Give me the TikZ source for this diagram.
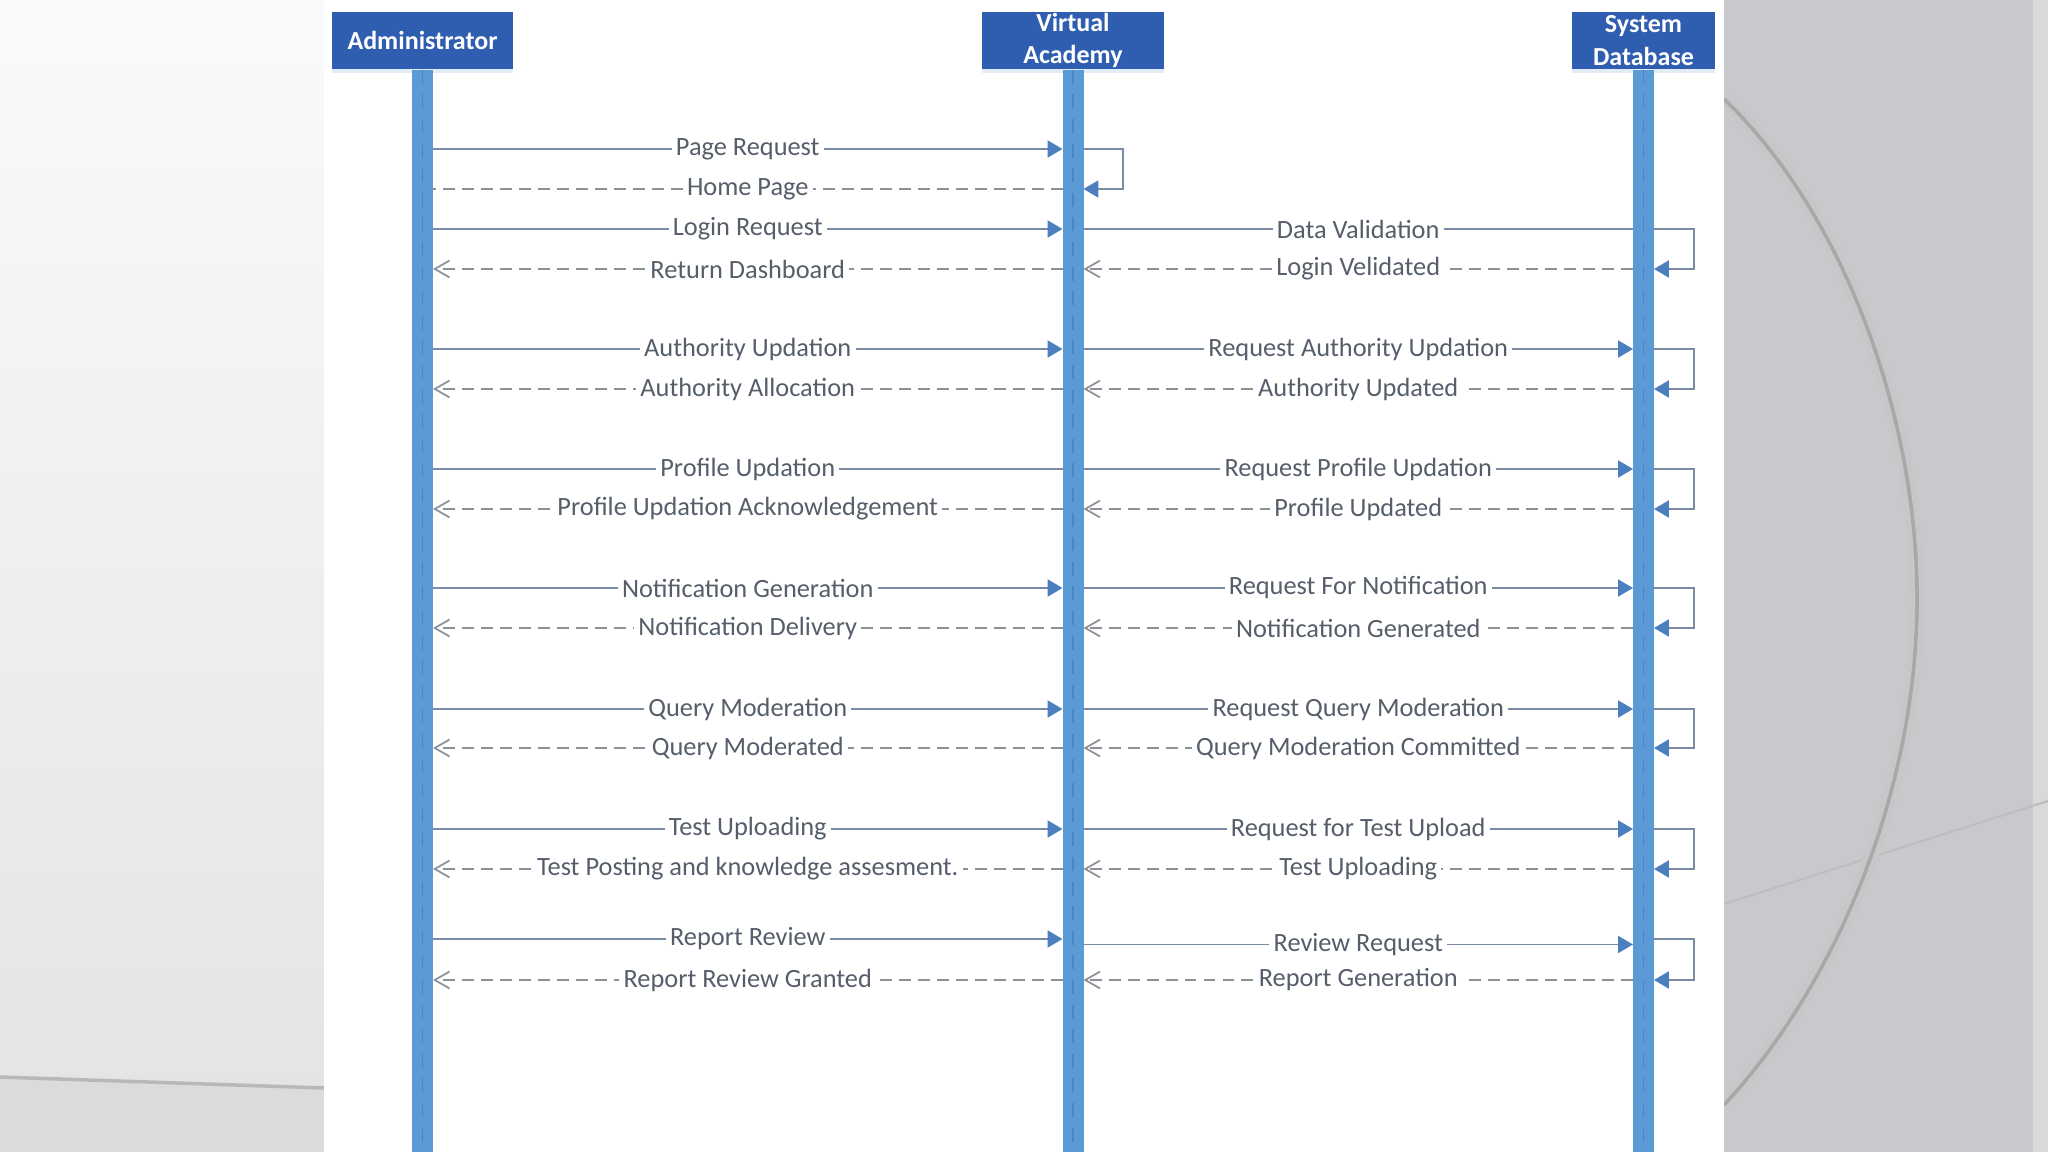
\documentclass[tikz,border=0pt]{standalone}
\usepackage{fontspec}
\setmainfont{Carlito}
\usetikzlibrary{arrows.meta,shadows}

\definecolor{boxblue}{RGB}{47,93,176}
\definecolor{lifeblue}{RGB}{91,155,213}
\definecolor{lifedark}{RGB}{72,134,200}
\definecolor{msgline}{RGB}{122,140,165}
\definecolor{tipblue}{RGB}{76,127,190}
\definecolor{retline}{RGB}{140,145,152}
\definecolor{lbltext}{RGB}{85,94,106}
\definecolor{slidegray}{RGB}{201,200,204}

\begin{document}
\begin{tikzpicture}[
  actor/.style={fill=boxblue,text=white,font=\fontsize{7.4}{9.2}\selectfont\bfseries,
    minimum height=0.57cm,inner xsep=1pt,inner ysep=0pt,align=center,
    drop shadow={shadow xshift=0pt,shadow yshift=-1pt,fill=lifeblue,opacity=0.18}},
  lifeline/.style={lifeblue,line width=0.21cm},
  lifedash/.style={lifedark,line width=0.5pt,dash pattern=on 4pt off 3pt},
  lbl/.style={font=\fontsize{7.5}{9}\selectfont,text=lbltext,fill=white,inner sep=1.2pt},
  call/.style={msgline,line width=0.5pt,-{Triangle[length=4.2pt,width=4.8pt,color=tipblue]}},
  callnotip/.style={msgline,line width=0.5pt},
  reply/.style={retline,line width=0.5pt,dash pattern=on 3.4pt off 2pt,
    -{Straight Barb[length=4.2pt,width=4.8pt]}},
  replynotip/.style={retline,line width=0.5pt,dash pattern=on 3.4pt off 2pt}
]

% ---- slide background ----
\useasboundingbox (0,0) rectangle (20.48,-11.52);
\shade[top color=black!2,bottom color=black!11] (0,0) rectangle (3.24,-11.52);
\fill[black!14] (0,-10.77) -- (3.24,-10.88) -- (3.24,-11.52) -- (0,-11.52) -- cycle;
\draw[black!28,line width=1pt] (0,-10.77) -- (3.24,-10.88);
\fill[slidegray] (17.24,0) rectangle (20.48,-11.52);
\fill[black!15] (20.33,0) rectangle (20.48,-11.52);
\draw[black!26,line width=0.6pt] (17.24,-9.04) -- (20.48,-8.01);
\draw[black!22,line width=4pt,postaction={draw,black!34,line width=1pt}]
  (17.24,-0.99) .. controls (18.5,-2.2) and (19.2,-4.3) .. (19.17,-6.10)
  .. controls (19.14,-7.9) and (18.4,-9.8) .. (17.24,-11.05);

% white page
\fill[white] (3.24,0) rectangle (17.24,-11.52);

% ---- actors ----
\node[actor,minimum width=1.81cm] (adm) at (4.225,-0.405) {Administrator};
\node[actor,minimum width=1.82cm] (va) at (10.73,-0.405) {Virtual\\Academy};
\node[actor,minimum width=1.43cm] (sd) at (16.435,-0.405) {System\\Database};

% ---- lifelines ----
\coordinate (bottom) at (0,-11.52);
\foreach \who in {adm,va,sd} {
  \draw[lifeline] (\who.south) -- (\who.south |- bottom);
  \draw[lifedash] (\who.south) -- (\who.south |- bottom);
}

% lifeline edges and loop columns
\coordinate (admR) at ([xshift=1.05mm]adm.south);
\coordinate (vaL) at ([xshift=-1.05mm]va.south);
\coordinate (vaR) at ([xshift=1.05mm]va.south);
\coordinate (sdL) at ([xshift=-1.05mm]sd.south);
\coordinate (sdR) at ([xshift=1.05mm]sd.south);
\coordinate (vaLoop) at (11.23,0);
\coordinate (sdLoop) at (16.94,0);

% message rows
\foreach \r/\y in {r1/1.49,r2/1.89,r3/2.29,r4/2.69,r5/3.49,r6/3.89,r7/4.69,r8/5.09,
  r9/5.88,r10/6.28,r11/7.09,r12/7.48,r13/8.29,r14/8.69,r15/9.39,r15b/9.445,r16/9.80}
  \coordinate (\r) at (0,-\y);

% ---- Administrator <-> Virtual Academy ----
\draw[call] (admR |- r1) -- node[lbl]{Page Request} (vaL |- r1);
\draw[replynotip] (vaL |- r2) -- node[lbl]{Home Page} (admR |- r2);
\draw[call] (admR |- r3) -- node[lbl]{Login Request} (vaL |- r3);
\draw[reply] (vaL |- r4) -- node[lbl]{Return Dashboard} (admR |- r4);
\draw[call] (admR |- r5) -- node[lbl]{Authority Updation} (vaL |- r5);
\draw[reply] (vaL |- r6) -- node[lbl]{Authority Allocation} (admR |- r6);
\draw[callnotip] (admR |- r7) -- node[lbl]{Profile Updation} (vaL |- r7);
\draw[reply] (vaL |- r8) -- node[lbl]{Profile Updation Acknowledgement} (admR |- r8);
\draw[call] (admR |- r9) -- node[lbl]{Notification Generation} (vaL |- r9);
\draw[reply] (vaL |- r10) -- node[lbl]{Notification Delivery} (admR |- r10);
\draw[call] (admR |- r11) -- node[lbl]{Query Moderation} (vaL |- r11);
\draw[reply] (vaL |- r12) -- node[lbl]{Query Moderated} (admR |- r12);
\draw[call] (admR |- r13) -- node[lbl]{Test Uploading} (vaL |- r13);
\draw[reply] (vaL |- r14) -- node[lbl]{Test Posting and knowledge assesment.} (admR |- r14);
\draw[call] (admR |- r15) -- node[lbl]{Report Review} (vaL |- r15);
\draw[reply] (vaL |- r16) -- node[lbl]{Report Review Granted} (admR |- r16);

% self call on Virtual Academy
\draw[call] (vaR |- r1) -- (vaLoop |- r1) -- (vaLoop |- r2) -- (vaR |- r2);

% ---- Virtual Academy <-> System Database ----
\draw[callnotip] (vaR |- r3) -- node[lbl]{Data Validation} (sdL |- r3);
\draw[reply] (sdL |- r4) -- node[lbl]{Login Velidated} (vaR |- r4);
\draw[call] (vaR |- r5) -- node[lbl]{Request Authority Updation} (sdL |- r5);
\draw[reply] (sdL |- r6) -- node[lbl]{Authority Updated} (vaR |- r6);
\draw[call] (vaR |- r7) -- node[lbl]{Request Profile Updation} (sdL |- r7);
\draw[reply] (sdL |- r8) -- node[lbl]{Profile Updated} (vaR |- r8);
\draw[call] (vaR |- r9) -- node[lbl]{Request For Notification} (sdL |- r9);
\draw[reply] (sdL |- r10) -- node[lbl]{Notification Generated} (vaR |- r10);
\draw[call] (vaR |- r11) -- node[lbl]{Request Query Moderation} (sdL |- r11);
\draw[reply] (sdL |- r12) -- node[lbl]{Query Moderation Committed} (vaR |- r12);
\draw[call] (vaR |- r13) -- node[lbl]{Request for Test Upload} (sdL |- r13);
\draw[reply] (sdL |- r14) -- node[lbl]{Test Uploading} (vaR |- r14);
\draw[call] (vaR |- r15b) -- node[lbl]{Review Request} (sdL |- r15b);
\draw[reply] (sdL |- r16) -- node[lbl]{Report Generation} (vaR |- r16);

% self calls on System Database
\foreach \a/\b in {r3/r4,r5/r6,r7/r8,r9/r10,r11/r12,r13/r14,r15/r16}
  \draw[call] (sdR |- \a) -- (sdLoop |- \a) -- (sdLoop |- \b) -- (sdR |- \b);

\end{tikzpicture}
\end{document}
